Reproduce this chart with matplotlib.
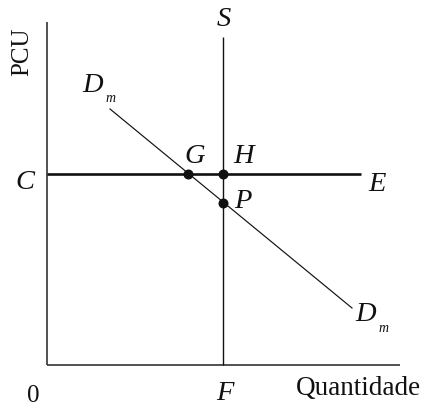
import matplotlib
matplotlib.use("Agg")
import matplotlib.pyplot as plt

# Data (units measured from the origin of the diagram)
x_axis_end = 353
y_axis_end = 343
supply_q = 176          # F, vertical supply line S
supply_top = 328
price_c = 191           # horizontal line C-E
price_line_end = 314
demand_x = [63, 305]    # D_m line endpoints
demand_y = [256, 57]
point_names = ["G", "H", "P"]
point_x = [141, 176, 176]
point_y = [191, 191, 162]

plt.rcParams['font.family'] = ['Liberation Serif', 'DejaVu Serif']

fig = plt.figure(figsize=(4.25, 4.06), dpi=100)
ax = fig.add_axes([0, 0, 1, 1])
ax.set_xlim(-47, 378)
ax.set_ylim(-40, 366)
ax.axis('off')

k = '#111111'
ax_c = '#333333'
# axes
ax.plot([0, 0], [0, y_axis_end], color=ax_c, lw=1.2, solid_capstyle='butt')
ax.plot([0, x_axis_end], [0, 0], color=ax_c, lw=1.2, solid_capstyle='butt')
# supply
ax.plot([supply_q, supply_q], [0, supply_top], color=k, lw=1.0, solid_capstyle='butt')
# C-E line
ax.plot([0, price_line_end], [price_c, price_c], color=k, lw=1.9, solid_capstyle='butt')
# demand
ax.plot(demand_x, demand_y, color=k, lw=0.85)
# points
ax.plot(point_x, point_y, 'o', color=k, markersize=6.2, zorder=5)

it = dict(style='italic', fontsize=20.5, color=k)
ax.text(supply_q + 1, 346, 'S', ha='center', va='center', **it)
ax.text(-22, price_c - 8, 'C', ha='center', va='center', **it)
ax.text(point_x[0] + 7, price_c + 18, 'G', ha='center', va='center', **it)
ax.text(point_x[1] + 21, price_c + 18, 'H', ha='center', va='center', **it)
ax.text(point_x[2] + 20, point_y[2] + 2, 'P', ha='center', va='center', **it)
ax.text(price_line_end + 16, price_c - 10, 'E', ha='center', va='center', **it)
ax.text(supply_q + 2, -28, 'F', ha='center', va='center', **it)
ax.text(-14, -30, '0', ha='center', va='center', fontsize=18, color=k)
ax.text(374, -23, 'Quantidade', ha='right', va='center', fontsize=19.5, color=k)
ax.text(-25, 314, 'PCU', ha='center', va='center', rotation=90, fontsize=18, color=k)

# D_m labels
ax.text(46, 280, 'D', ha='center', va='center', **it)
ax.text(63, 268, 'm', ha='center', va='center', style='italic', fontsize=10, color=k)
ax.text(319, 51, 'D', ha='center', va='center', **it)
ax.text(337, 37, 'm', ha='center', va='center', style='italic', fontsize=10, color=k)

fig.savefig('out.png', dpi=100)
